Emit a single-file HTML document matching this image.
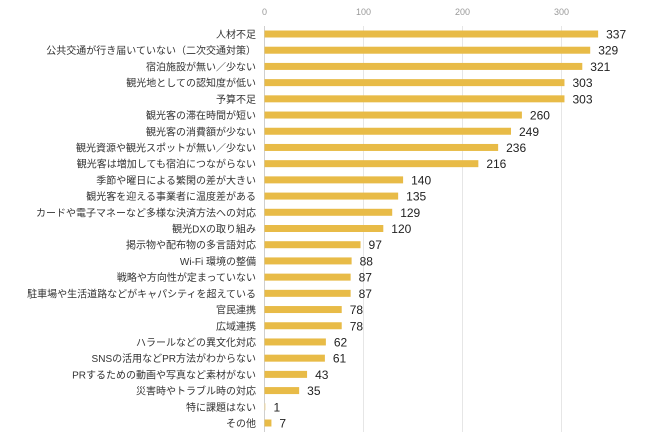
<!DOCTYPE html>
<html><head><meta charset="utf-8"><style>
body{margin:0;background:#fff;width:650px;height:448px;overflow:hidden}
svg{display:block;font-family:"Liberation Sans","Noto Sans CJK JP",sans-serif}
</style></head><body>
<svg id="chart" width="650" height="448" xmlns="http://www.w3.org/2000/svg"></svg>
<script>
const categories=["人材不足","公共交通が行き届いていない（二次交通対策）","宿泊施設が無い／少ない","観光地としての認知度が低い","予算不足","観光客の滞在時間が短い","観光客の消費額が少ない","観光資源や観光スポットが無い／少ない","観光客は増加しても宿泊につながらない","季節や曜日による繁閑の差が大きい","観光客を迎える事業者に温度差がある","カードや電子マネーなど多様な決済方法への対応","観光DXの取り組み","掲示物や配布物の多言語対応","Wi-Fi 環境の整備","戦略や方向性が定まっていない","駐車場や生活道路などがキャパシティを超えている","官民連携","広域連携","ハラールなどの異文化対応","SNSの活用などPR方法がわからない","PRするための動画や写真など素材がない","災害時やトラブル時の対応","特に課題はない","その他"];
const values=[337,329,321,303,303,260,249,236,216,140,135,129,120,97,88,87,87,78,78,62,61,43,35,1,7];
const ticks=[0,100,200,300];
const svg=document.getElementById('chart');
const NS='http://www.w3.org/2000/svg';
const x0=264.5,k=0.99,y0=34,step=(423-34)/(categories.length-1);
const xs=v=>x0+v*k, ys=i=>y0+i*step;
function mk(t,a){const e=document.createElementNS(NS,t);for(const n in a)e.setAttribute(n,a[n]);svg.appendChild(e);return e;}
ticks.forEach(t=>{
  const l=mk('line',{x1:xs(t),x2:xs(t),y1:26,y2:432,stroke:t===0?'#cfcfcf':'#e6e6e6','stroke-width':1});
  
  
  const tx=mk('text',{x:xs(t),y:15,'font-size':9,fill:'#999','text-anchor':'middle'});
  tx.textContent=t;
  
  
});
categories.forEach((c,i)=>{
  const y=ys(i);
  const lb=mk('text',{x:256,y:y+4,'font-size':10,fill:'#333','text-anchor':'end'});
  lb.textContent=c;
  
  
  const b=mk('rect',{x:x0,y:y-3.5,width:Math.max(values[i]*k,0.5),height:7,fill:'#e8bb47'});
  if(values[i]<3)b.setAttribute('fill','#f0d9a0');
  
  
  const v=mk('text',{x:xs(values[i])+8,y:y+4.5,'font-size':12,fill:'#222'});
  v.textContent=values[i];
  
  
});
</script>
</body></html>
